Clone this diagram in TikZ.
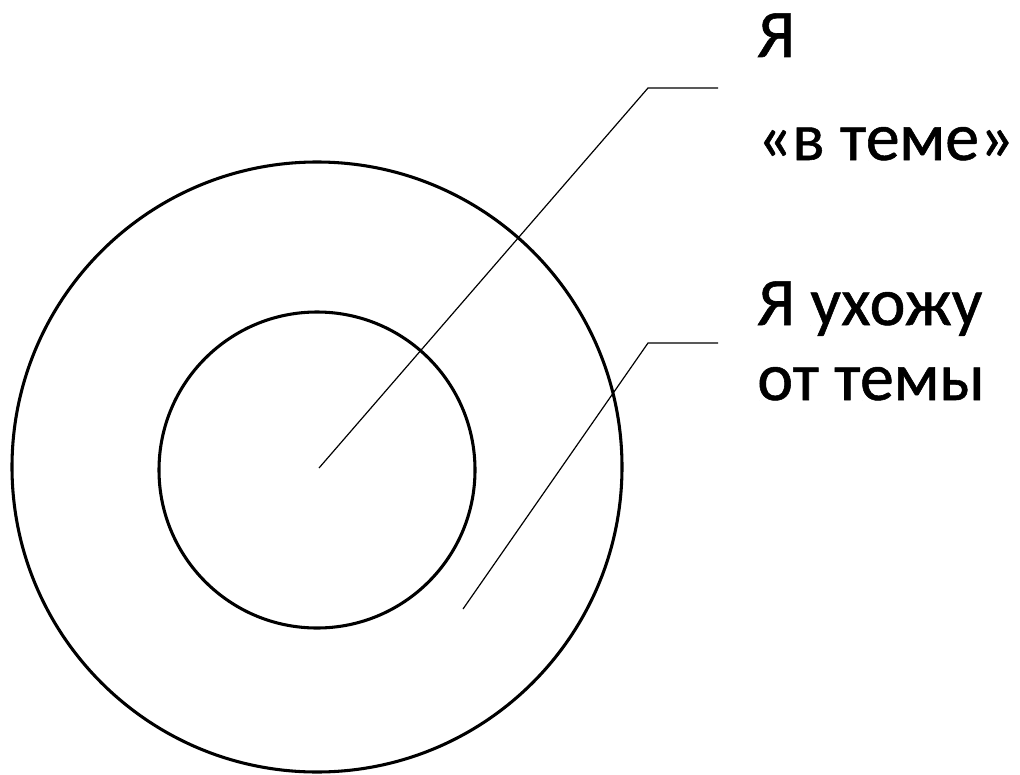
\documentclass[tikz,border=0pt]{standalone}
\usepackage{fontspec}
\setmainfont{Carlito}[FakeBold=0.8]
\begin{document}
\begin{tikzpicture}[x=0.75pt,y=-0.75pt,
  ring/.style={draw=black,line width=2.3pt,circle,inner sep=0pt},
  leader/.style={draw=black,line width=0.9pt},
  lbl/.style={anchor=base west,inner sep=0pt,font=\fontsize{51}{60}\selectfont}]
\useasboundingbox (0,0) rectangle (1020,774);
\node[ring,minimum size=457.5pt] (outer) at (317,467) {};
\node[ring,minimum size=237pt] (inner) at (317,470) {};
\coordinate (s1) at (319,468);
\coordinate (k1) at (648,88);
\coordinate (e1) at (718,88);
\coordinate (s2) at (463,609);
\coordinate (k2) at (648,343);
\coordinate (e2) at (718,343);
\draw[leader] (s1) -- (k1) -- (e1);
\draw[leader] (s2) -- (k2) -- (e2);
\node[lbl] (t1) at (757,57) {Я};
\node[lbl] (t2) at (757,160) {«в теме»};
\node[lbl] (t3) at (757,325) {Я ухожу};
\node[lbl] (t4) at (757,400) {от темы};
\end{tikzpicture}
\end{document}
